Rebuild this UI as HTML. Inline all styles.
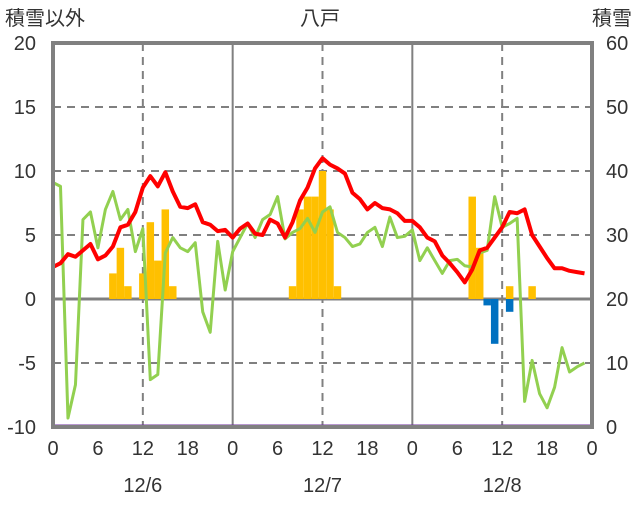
<!DOCTYPE html>
<html><head><meta charset="utf-8"><style>
html,body{margin:0;padding:0;background:#fff;}
svg text{font-family:"Liberation Sans","Noto Sans CJK JP",sans-serif;font-size:20px;fill:#333;}
</style></head><body>
<svg id="chart" width="636" height="501" xmlns="http://www.w3.org/2000/svg">
<g id="grid"></g>
<g id="bars"></g>
<g id="lines"></g>
<g id="axes"></g>
<text x="5" y="25">積雪以外</text>
<text x="320" y="25" text-anchor="middle">八戸</text>
<text x="632" y="25" text-anchor="end">積雪</text>
</svg>
<script>
const redValues=[2.5,2.8,3.5,3.3,3.8,4.3,3.1,3.4,4.1,5.6,5.8,6.8,8.7,9.6,8.8,9.9,8.4,7.2,7.1,7.4,6.0,5.8,5.3,5.4,4.8,5.5,5.9,5.1,5.0,6.2,5.9,4.8,6.0,7.7,8.7,10.2,11.0,10.5,10.2,9.8,8.3,7.8,7.0,7.5,7.1,7.0,6.7,6.1,6.1,5.6,4.8,4.5,3.4,2.8,2.1,1.3,2.3,3.8,4.0,4.8,5.6,6.8,6.7,7.0,5.0,4.1,3.2,2.4,2.4,2.2,2.1,2.0];
const greenValues=[9.1,8.8,-9.3,-6.7,6.2,6.8,4.0,7.0,8.4,6.2,7.0,3.7,5.5,-6.3,-5.9,3.6,4.8,4.0,3.7,4.4,-1.0,-2.6,4.5,0.7,3.7,4.8,5.9,4.8,6.2,6.6,8.0,4.7,5.2,5.5,6.3,5.2,6.8,7.2,5.2,4.8,4.1,4.3,5.2,5.6,4.1,6.4,4.8,4.9,5.4,3.0,4.0,3.0,2.0,3.0,3.1,2.6,2.5,3.6,3.8,8.0,5.6,5.9,6.3,-8.0,-4.8,-7.4,-8.5,-6.9,-3.8,-5.7,-5.3,-5.0];
const yellowHours=[8,9,10,12,13,14,15,16,32,33,34,35,36,37,38,56,57,61,64];
const yellowValues=[2,4,1,2,6,3,7,1,1,7,8,8,10,7,1,8,4,1,1];
const blueHours=[58,59,61];
const blueValues=[-0.5,-3.5,-1];
const leftTicks=[20,15,10,5,0,-5,-10];
const rightTicks=[60,50,40,30,20,10,0];
const hourTicks=[0,6,12,18,24,30,36,42,48,54,60,66,72];
const hourLabels=["0","6","12","18","0","6","12","18","0","6","12","18","0"];
const dateLabels=["12/6","12/7","12/8"];
const dateHours=[12,36,60];

const X0=53,X1=592,Y0=43,Y1=427;
const x=h=>X0+(X1-X0)*h/72;
const y=v=>Y1-(v+10)*(Y1-Y0)/30;
const NS="http://www.w3.org/2000/svg";
function mk(parent,tag,attrs){const e=document.createElementNS(NS,tag);for(const k in attrs)e.setAttribute(k,attrs[k]);document.getElementById(parent).appendChild(e);return e;}

// grid
[15,10,5,-5].forEach(v=>{
 const l=mk('grid','line',{x1:X0,x2:X1,y1:y(v),y2:y(v),stroke:'#808080','stroke-width':2,'stroke-dasharray':'8,6'});
 
 
});
[12,36,60].forEach(h=>{
 const l=mk('grid','line',{x1:x(h),x2:x(h),y1:Y0,y2:Y1,stroke:'#808080','stroke-width':2,'stroke-dasharray':'8,6'});
 
 
});
[24,48].forEach(h=>{
 const l=mk('grid','line',{x1:x(h),x2:x(h),y1:Y0,y2:Y1,stroke:'#808080','stroke-width':2});
 
 
});
const bw=(X1-X0)/72;
yellowHours.forEach((h,i)=>{
 const v=yellowValues[i];
 const r=mk('bars','rect',{x:x(h)-bw/2,y:y(v),width:bw,height:y(0)-y(v),fill:'#ffc000'});
 
 
});
blueHours.forEach((h,i)=>{
 const v=blueValues[i];
 const r=mk('bars','rect',{x:x(h)-bw/2,y:y(0),width:bw,height:y(v)-y(0),fill:'#0070c0'});
 
 
});
const zl=mk('grid','line',{x1:X0,x2:X1,y1:y(0),y2:y(0),stroke:'#808080','stroke-width':3});



const gp=mk('lines','polyline',{points:greenValues.map((v,i)=>x(i)+','+y(v)).join(' '),fill:'none',stroke:'#92d050','stroke-width':3,'stroke-linejoin':'round'});


const rp=mk('lines','polyline',{points:redValues.map((v,i)=>x(i)+','+y(v)).join(' '),fill:'none',stroke:'#ff0000','stroke-width':4,'stroke-linejoin':'round'});


const pl=mk('lines','line',{x1:X0,x2:X1,y1:Y1-1,y2:Y1-1,stroke:'#7030a0','stroke-width':3});



const fr=mk('axes','rect',{x:X0,y:Y0,width:X1-X0,height:Y1-Y0,fill:'none',stroke:'#808080','stroke-width':4});


leftTicks.forEach(v=>{
 const t=mk('axes','text',{x:36,y:y(v)+7,'text-anchor':'end'});t.textContent=v;
 
 
});
rightTicks.forEach((v,i)=>{
 const t=mk('axes','text',{x:606,y:y(leftTicks[i])+7});t.textContent=v;
 
 
});
hourTicks.forEach((h,i)=>{
 const t=mk('axes','text',{x:x(h),y:455,'text-anchor':'middle'});t.textContent=hourLabels[i];
 
 
});
dateHours.forEach((h,i)=>{
 const t=mk('axes','text',{x:x(h),y:492,'text-anchor':'middle'});t.textContent=dateLabels[i];
 
 
});
</script>
</body></html>
